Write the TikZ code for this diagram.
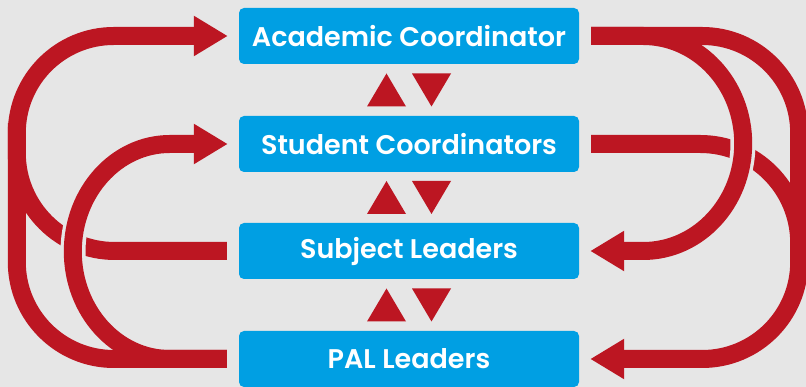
\documentclass[tikz,border=0pt]{standalone}
\usepackage{fontspec}
\setmainfont{Poppins}[BoldFont=* SemiBold]
\usetikzlibrary{arrows.meta,calc}

\definecolor{boxblue}{RGB}{0,159,227}
\definecolor{flowred}{RGB}{188,22,34}
\definecolor{bggray}{RGB}{230,230,230}

\tikzset{
  role/.style={fill=boxblue, rounded corners=5pt, minimum width=340pt, minimum height=56pt,
    inner sep=0pt, text=white, font=\bfseries\fontsize{27}{32}\selectfont},
  flow/.style={draw=flowred, line width=18pt},
  flowtip/.style={flow, -{Triangle[length=34pt,width=38pt]}},
  halo/.style={draw=bggray, line width=25pt}
}

\begin{document}
\begin{tikzpicture}[x=1pt,y=1pt]
\fill[bggray] (0,0) rectangle (806,387);
\useasboundingbox (0,0) rectangle (806,387);

\node[role] (ac) at (409,351) {Academic Coordinator};
\node[role] (sc) at (409,243) {Student Coordinators};
\node[role] (sl) at (409,136) {Subject Leaders};
\node[role] (pal) at (409,28) {PAL Leaders};

\foreach \a/\b in {ac/sc, sc/sl, sl/pal} {
  \coordinate (m) at ($(\a.south)!0.5!(\b.north)$);
  \fill[flowred] ($(m)+(-42,-16.5)$) -- ++(39,0) -- ++(-19.5,33) -- cycle;
  \fill[flowred] ($(m)+(3,16.5)$) -- ++(39,0) -- ++(-19.5,-33) -- cycle;
}

\draw[flow] ([xshift=-12pt]sl.west) -- ++(-112,0) arc[start angle=270, end angle=180, radius=98] -- ++(0,30);
\draw[halo] (170,135.5) ++(195:97 and 107.5) arc[start angle=195, end angle=150, x radius=97, y radius=107.5];
\draw[flowtip] ([xshift=-12pt]pal.west) -- ++(-57,0) arc[start angle=270, end angle=90, x radius=97, y radius=107.5] -- ([xshift=-11pt]sc.west);
\draw[flowtip, rounded corners=97pt] ([xshift=-12pt]pal.west) -- ++(-210,0) |- ([xshift=-11pt]ac.west);

\draw[flow] ([xshift=12pt]sc.east) -- ++(109,0) arc[start angle=90, end angle=0, radius=99] -- ++(0,-30);
\draw[halo] (643,243.5) ++(25:100 and 107.5) arc[start angle=25, end angle=-30, x radius=100, y radius=107.5];
\draw[flowtip] ([xshift=12pt]ac.east) -- ++(52,0) arc[start angle=90, end angle=-90, x radius=100, y radius=107.5] -- ([xshift=11pt]sl.east);
\draw[flowtip, rounded corners=97pt] ([xshift=12pt]ac.east) -- ++(208,0) |- ([xshift=11pt]pal.east);
\end{tikzpicture}
\end{document}
